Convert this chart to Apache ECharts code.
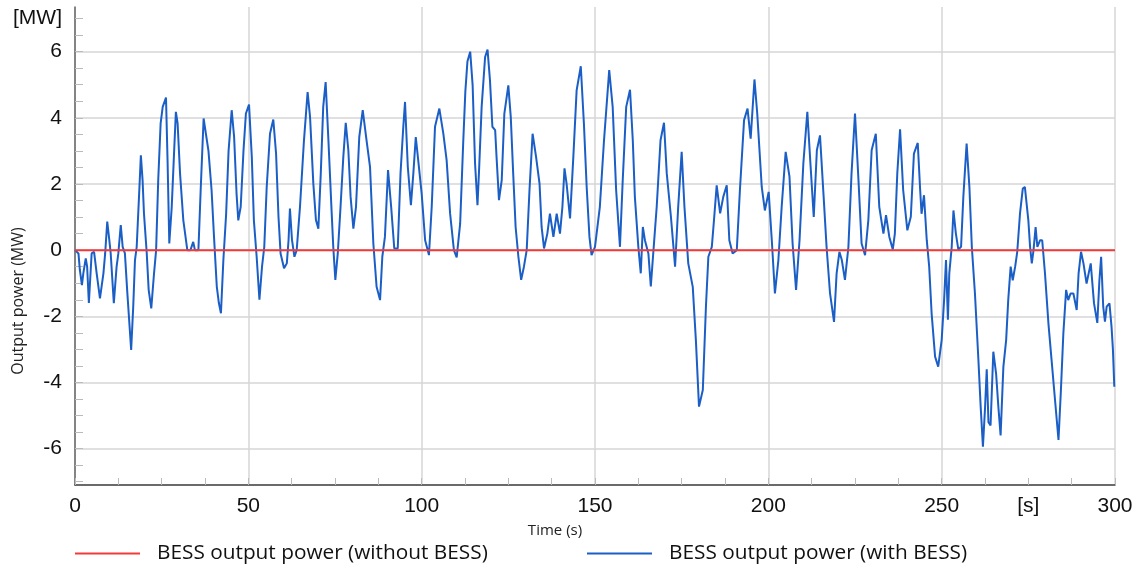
<!DOCTYPE html>
<html lang="en">
<head>
  <meta charset="UTF-8">
  <title>BESS output power</title>
  <style>
    html, body { margin: 0; padding: 0; background: #fff; }
    #main { width: 1140px; height: 574px; }
  </style>
</head>
<body>
<div id="main"></div>
<script src="https://cdn.jsdelivr.net/npm/echarts@6/dist/echarts.min.js"></script>
<script type="text/javascript">
  // time stamps (s) and power (MW)
  const timeS = [
    0, 0.5, 1.0, 1.4, 2.0, 2.4, 3.1, 3.5, 4.0, 4.8, 5.5, 6.25, 7.2, 8.2, 8.7, 9.3, 9.9, 10.3, 11.2, 12.0,
    12.5, 13.2, 13.75, 14.4, 15.1, 16.2, 16.8, 17.3, 17.8, 18.5, 19.0, 19.5, 19.9, 20.7, 21.25, 22.0, 22.8, 23.4, 24.0, 24.7,
    25.3, 26.25, 26.7, 27.2, 27.9, 28.6, 29.1, 29.6, 30.3, 31.25, 32.4, 33.3, 34.1, 34.6, 35.6, 36.25, 37.1, 38.5, 39.4, 40.1,
    40.9, 41.5, 42.1, 42.8, 43.6, 44.3, 45.2, 45.9, 46.6, 47.1, 47.8, 48.6, 49.3, 50.2, 51.0, 51.6, 52.4, 53.2, 53.95, 54.6,
    55.3, 56.25, 57.2, 58.0, 58.7, 59.3, 60.3, 61.1, 61.6, 62.0, 62.6, 63.3, 63.95, 64.9, 66.05, 67.1, 67.8, 68.75, 69.5, 70.2,
    70.9, 71.6, 72.3, 73.1, 74.05, 74.5, 75.1, 75.8, 76.6, 77.4, 78.1, 78.85, 79.5, 80.3, 81.06, 82.0, 83.0, 84.1, 85.1, 86.06,
    87.0, 88.0, 88.65, 89.4, 90.3, 91.2, 92.1, 93.1, 93.9, 94.7, 95.2, 96.0, 96.9, 97.6, 98.3, 99.0, 100.0, 101.0, 102.1, 102.9,
    103.85, 105.1, 106.25, 107.2, 108.2, 109.3, 110.1, 111.1, 112.0, 112.6, 113.2, 114.0, 114.7, 115.4, 116.1, 116.6, 117.3, 118.3, 119.0, 119.7,
    120.4, 121.2, 121.6, 122.3, 123.1, 123.85, 125.0, 125.7, 126.4, 127.1, 127.9, 128.7, 129.5, 130.3, 131.1, 132.0, 133.0, 134.0, 134.6, 135.3,
    136.25, 137.0, 138.0, 138.95, 139.9, 140.6, 141.2, 141.8, 142.8, 143.75, 144.7, 145.9, 146.8, 147.6, 148.4, 149.0, 150.0, 151.4, 152.6, 154.1,
    155.1, 156.1, 157.2, 158.0, 159.0, 160.1, 160.9, 161.5, 162.5, 163.2, 163.8, 164.4, 165.4, 166.1, 166.8, 167.8, 168.9, 169.9, 170.7, 171.9,
    173.1, 174.0, 175.0, 175.8, 176.9, 178.2, 179.1, 180.0, 181.1, 182.0, 182.7, 183.7, 184.4, 185.1, 186.1, 187.0, 188.0, 188.75, 189.7, 190.9,
    191.8, 193.0, 194.0, 194.9, 196.0, 196.8, 198.1, 199.0, 200.1, 201.0, 201.9, 202.9, 203.85, 205.0, 206.1, 207.0, 208.0, 209.0, 210.1, 211.25,
    212.2, 213.1, 214.0, 214.9, 215.9, 216.8, 217.8, 218.95, 219.7, 220.5, 221.2, 222.1, 223.1, 224.0, 225.0, 226.0, 226.9, 227.9, 228.85, 229.8,
    231.0, 232.0, 233.2, 233.95, 234.9, 235.9, 236.5, 237.2, 238.0, 238.9, 240.1, 241.1, 242.0, 243.1, 243.8, 244.2, 244.9, 245.7, 246.4, 247.1,
    248.1, 249.0, 250.0, 250.7, 251.25, 251.8, 252.2, 252.9, 253.4, 254.1, 254.8, 255.6, 256.25, 257.2, 258.0, 258.7, 259.6, 260.6, 261.25, 261.9,
    262.5, 263.0, 263.5, 264.1, 264.9, 265.7, 266.35, 267.0, 267.8, 268.6, 269.2, 269.9, 270.5, 271.2, 271.8, 272.6, 273.4, 274.0, 275.0, 275.5,
    276.0, 276.5, 277.1, 277.6, 278.4, 279.0, 279.8, 280.8, 281.7, 282.7, 283.7, 284.4, 285.1, 285.9, 286.5, 287.2, 288.0, 288.95, 289.5, 290.2,
    290.9, 291.8, 293.0, 293.95, 294.9, 295.5, 296.0, 296.6, 297.1, 297.6, 298.4, 299.0, 299.4, 299.8
  ];
  const powerWithBess = [
    0, 0, -0.1, -0.6, -1.06, -0.7, -0.25, -0.5, -1.6, -0.1, -0.05, -0.7, -1.46, -0.7, -0.1, 0.86, 0.3, -0.1, -1.6, -0.5,
    -0.1, 0.76, 0.1, -0.1, -1.3, -3.02, -1.7, -0.3, 0.1, 1.7, 2.87, 2.1, 1.1, -0.1, -1.2, -1.76, -0.7, 0, 2.1, 3.83,
    4.33, 4.61, 2.7, 0.2, 1.3, 3.0, 4.18, 3.83, 2.32, 0.9, 0, 0, 0.25, 0, 0, 1.81, 3.98, 3.0, 1.81, 0.4,
    -1.1, -1.6, -1.91, -0.3, 1.1, 3.0, 4.23, 3.42, 1.71, 0.9, 1.31, 3.0, 4.13, 4.4, 2.82, 0.9, -0.2, -1.5, -0.5, 0.1,
    1.91, 3.52, 3.95, 2.92, 1.01, -0.1, -0.55, -0.4, 0.3, 1.26, 0.3, -0.2, 0, 1.31, 3.32, 4.78, 4.03, 2.01, 0.91, 0.65,
    2.32, 4.33, 5.08, 3.32, 1.11, 0.1, -0.9, -0.1, 1.31, 2.82, 3.85, 3.02, 1.61, 0.65, 1.31, 3.42, 4.23, 3.32, 2.52, 0.2,
    -1.11, -1.51, -0.2, 0.4, 2.42, 1.31, 0.05, 0.05, 2.32, 3.73, 4.48, 2.52, 1.36, 2.32, 3.42, 2.72, 1.71, 0.3, -0.15, 1.31,
    3.73, 4.28, 3.52, 2.72, 1.11, 0, -0.22, 0.8, 3.3, 4.8, 5.7, 6.0, 4.99, 2.62, 1.36, 2.52, 4.33, 5.84, 6.06, 5.14,
    3.73, 3.63, 2.82, 1.51, 2.12, 4.13, 4.98, 4.03, 2.32, 0.7, -0.2, -0.9, -0.5, 0, 1.81, 3.52, 2.82, 2.01, 0.7, 0.05,
    0.5, 1.1, 0.4, 1.1, 0.5, 1.31, 2.47, 2.01, 0.96, 2.82, 4.83, 5.56, 3.83, 1.91, 0.4, -0.15, 0.1, 1.31, 3.32, 5.44,
    4.33, 1.81, 0.1, 2.12, 4.33, 4.85, 3.32, 1.61, 0.1, -0.7, 0.7, 0.3, -0.1, -1.1, -0.1, 1.31, 3.32, 3.85, 2.32, 1.01,
    -0.5, 1.31, 2.97, 1.31, -0.4, -1.11, -2.72, -4.73, -4.23, -1.71, -0.2, 0.1, 1.01, 1.96, 1.11, 1.61, 1.96, 0.3, -0.1, 0,
    1.81, 3.93, 4.28, 3.37, 5.16, 4.13, 1.91, 1.2, 1.76, 0.3, -1.31, -0.3, 1.31, 2.97, 2.22, 0.2, -1.2, 0.3, 2.62, 4.18,
    2.52, 1.0, 3.02, 3.47, 1.71, 0.1, -1.31, -2.17, -0.7, -0.05, -0.3, -0.9, 0.1, 2.32, 4.13, 2.12, 0.2, -0.15, 0.91, 3.02,
    3.52, 1.31, 0.5, 1.06, 0.4, 0.02, 0.5, 2.32, 3.65, 1.81, 0.6, 1.01, 2.92, 3.24, 1.81, 1.1, 1.66, 0.3, -0.5, -1.91,
    -3.22, -3.52, -2.72, -1.51, -0.3, -2.1, -0.7, 0.1, 1.2, 0.5, 0.02, 0.1, 1.61, 3.22, 1.91, 0.1, -1.31, -3.32, -4.73, -5.94,
    -4.8, -3.6, -5.2, -5.3, -3.07, -3.73, -4.73, -5.6, -3.53, -2.72, -1.51, -0.5, -0.91, -0.5, -0.05, 1.11, 1.86, 1.91, 0.91, 0.1,
    -0.4, 0, 0.7, 0.1, 0.3, 0.3, -0.7, -2.22, -3.32, -4.53, -5.74, -4.23, -2.52, -1.2, -1.51, -1.31, -1.31, -1.81, -0.7, -0.05,
    -0.4, -1.01, -0.4, -1.61, -2.2, -0.91, -0.2, -1.71, -2.16, -1.71, -1.61, -2.32, -3.0, -4.13
  ];
  const timeNoBess = [0, 300];
  const powerNoBess = [0, 0];

  const yMinorTicks = [-7, -6.5, -6, -5.5, -5, -4.5, -4, -3.5, -3, -2.5, -2, -1.5, -1, -0.5, 0,
    0.5, 1, 1.5, 2, 2.5, 3, 3.5, 4, 4.5, 5, 5.5, 6, 6.5, 7];
  const yLabels = [-6, -4, -2, 0, 2, 4, 6, 7];
  const yGrid = [-6, -4, -2, 0, 2, 4, 6];

  const nameOff = 'BESS output power (without BESS)';
  const nameOn = 'BESS output power (with BESS)';

  const chart = echarts.init(document.getElementById('main'));

  const labelFont = {fontFamily: 'Liberation Sans, Arial, sans-serif', fontSize: 21, color: '#111'};
  const textFont = 'Open Sans, sans-serif';
  const legendText = {fontFamily: textFont, fontSize: 20.8, color: '#111', padding: [0, 0, 0, 12]};

  const option = {
    animation: false,
    grid: {left: 75, right: 25, top: 7, bottom: 89, containLabel: false},
    legend: [
      {
        data: [nameOff], left: 75, top: 543, padding: 0, itemWidth: 65, itemHeight: 14,
        icon: 'path://M0,6 L65,6 L65,8 L0,8 Z', textStyle: legendText
      },
      {
        data: [nameOn], left: 587, top: 543, padding: 0, itemWidth: 65, itemHeight: 14,
        icon: 'path://M0,6 L65,6 L65,8 L0,8 Z', textStyle: legendText
      }
    ],
    xAxis: [
      {
        type: 'value', min: 0, max: 300, interval: 50,
        axisLine: {show: true, onZero: false, lineStyle: {color: '#3a3a3a', width: 1.5}},
        axisTick: {show: true, inside: true, length: 7, lineStyle: {color: '#bbb'}},
        minorTick: {show: true, splitNumber: 4, length: 7, lineStyle: {color: '#bbb'}},
        splitLine: {show: true, lineStyle: {color: '#d6d6d6', width: 1.5}},
        axisLabel: Object.assign({margin: 11}, labelFont)
      },
      {
        type: 'value', min: 0, max: 300, interval: 25, position: 'bottom',
        axisLine: {show: false, onZero: false}, axisTick: {show: false}, splitLine: {show: false},
        axisLabel: Object.assign({margin: 11, formatter: v => v === 275 ? '[s]' : ''}, labelFont)
      }
    ],
    yAxis: [
      {
        type: 'value', min: -7.1, max: 7.35,
        axisLine: {show: true, onZero: false, lineStyle: {color: '#666', width: 1.5}},
        axisTick: {show: true, inside: true, length: 8, customValues: yMinorTicks, lineStyle: {color: '#bbb'}},
        splitLine: {show: false},
        axisLabel: Object.assign({margin: 13, customValues: yLabels, formatter: v => v === 7 ? '[MW]' : String(v)}, labelFont)
      },
      {
        type: 'value', min: -7.1, max: 7.35,
        axisLine: {show: false, onZero: false},
        axisTick: {show: false, customValues: yGrid},
        axisLabel: {show: false},
        splitLine: {show: true, lineStyle: {color: '#d6d6d6', width: 1.5}}
      }
    ],
    graphic: [
      {
        type: 'text', x: 18, y: 301, rotation: Math.PI / 2,
        style: {text: 'Output power (MW)', fontFamily: textFont, fontSize: 16, fill: '#222', align: 'center', verticalAlign: 'middle'}
      },
      {
        type: 'text', x: 555, y: 531,
        style: {text: 'Time (s)', fontFamily: textFont, fontSize: 15, fill: '#222', align: 'center', verticalAlign: 'middle'}
      }
    ],
    series: [
      {
        name: nameOn, type: 'line', symbol: 'none', z: 2,
        lineStyle: {color: '#1b5fc6', width: 2}, itemStyle: {color: '#1b5fc6'},
        data: timeS.map((t, i) => [t, powerWithBess[i]])
      },
      {
        name: nameOff, type: 'line', symbol: 'none', z: 3,
        lineStyle: {color: '#f23a3a', width: 2}, itemStyle: {color: '#f23a3a'},
        data: timeNoBess.map((t, i) => [t, powerNoBess[i]])
      }
    ]
  };

  chart.setOption(option);
</script>
</body>
</html>
